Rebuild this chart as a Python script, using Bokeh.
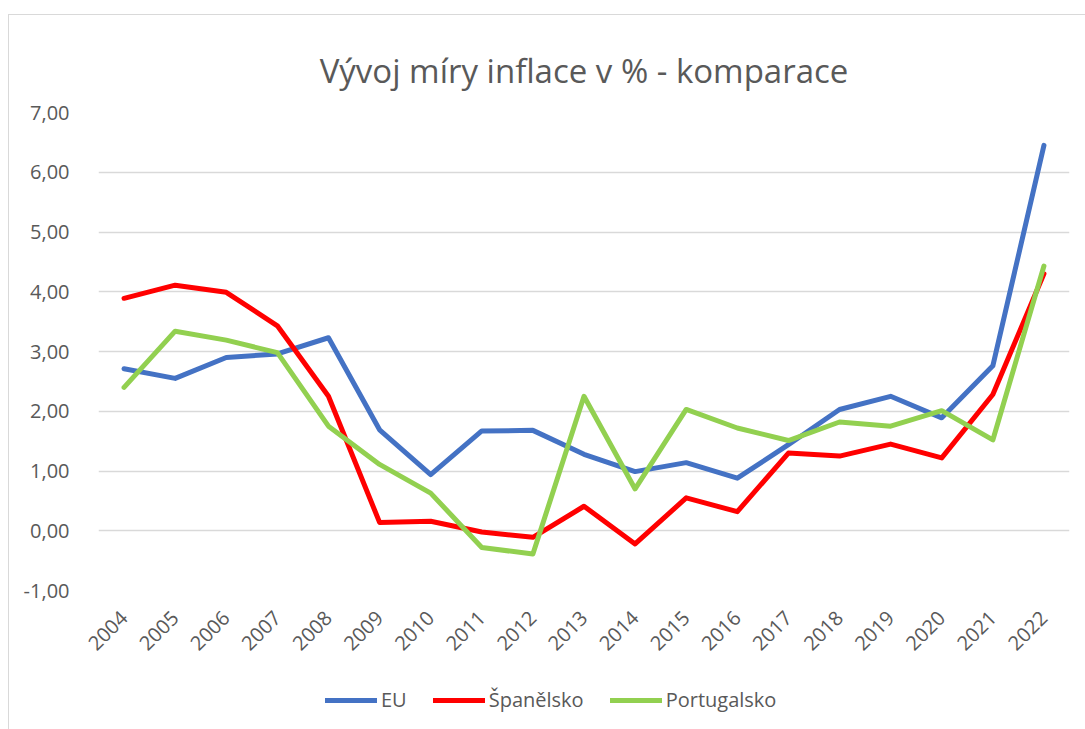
import math
from bokeh.plotting import figure
from bokeh.layouts import column
from bokeh.models import FactorRange, Range1d, FixedTicker, Legend, LegendItem, Title
from bokeh.embed import file_html
from bokeh.resources import INLINE

years = [str(y) for y in range(2004, 2023)]
eu = [2.71, 2.55, 2.90, 2.96, 3.23, 1.69, 0.94, 1.67, 1.68, 1.28, 0.99, 1.14, 0.88, 1.44, 2.03, 2.25, 1.89, 2.76, 6.45]
spain = [3.89, 4.11, 3.99, 3.43, 2.25, 0.14, 0.16, -0.02, -0.11, 0.41, -0.22, 0.55, 0.32, 1.30, 1.25, 1.45, 1.22, 2.28, 4.30]
portugal = [2.40, 3.34, 3.19, 2.98, 1.75, 1.11, 0.63, -0.28, -0.39, 2.25, 0.70, 2.03, 1.72, 1.51, 1.82, 1.75, 2.01, 1.52, 4.43]
series_names = ["EU", "Španělsko", "Portugalsko"]
series_colors = ["#4472C4", "#FF0000", "#92D050"]
y_ticks = [-1, 0, 1, 2, 3, 4, 5, 6, 7]
title_text = "Vývoj míry inflace v % - komparace"

FONT = "Open Sans"
GRAY = "#595959"
BORDER = "1px solid #d9d9d9"

p = figure(
    x_range=FactorRange(*years, range_padding=0),
    y_range=Range1d(-1, 7),
    frame_width=970, frame_height=477,
    output_backend="svg", toolbar_location=None,
    min_border_left=89, min_border_right=17, min_border_top=97, min_border_bottom=80,
    margin=(14, 0, 0, 8),
)
p.styles = {"border-left": BORDER, "border-top": BORDER}
p.outline_line_color = None
p.background_fill_color = "white"
p.border_fill_color = "white"

t = Title(text=title_text, align="center", text_font=FONT, text_font_size="33px",
          text_color=GRAY, text_font_style="normal", standoff=40, offset=-31)
p.add_layout(t, "above")

p.xgrid.grid_line_color = None
p.ygrid.grid_line_color = "#d9d9d9"
p.ygrid.grid_line_width = 1.5
p.yaxis.ticker = FixedTicker(ticks=y_ticks)
p.yaxis.major_label_overrides = {v: f"{v:.2f}".replace(".", ",") for v in y_ticks}

for ax in (p.xaxis[0], p.yaxis[0]):
    ax.axis_line_color = None
    ax.major_tick_line_color = None
    ax.minor_tick_line_color = None
    ax.major_label_text_font = FONT
    ax.major_label_text_font_size = "20px"
    ax.major_label_text_color = GRAY
p.yaxis.major_label_standoff = 23
p.xaxis.major_label_orientation = math.pi / 4
p.xaxis.major_label_standoff = 18

series = [eu, spain, portugal]
for vals, col in zip(series, series_colors):
    p.line(years, vals, line_color=col, line_width=5, line_cap="round", line_join="round")

# legend strip below the chart (its lines lie outside the strip's visible range)
lg = figure(
    x_range=Range1d(-100, -99), y_range=Range1d(0, 1),
    width=1077, height=60,
    output_backend="svg", toolbar_location=None,
    min_border=0, margin=(0, 0, 0, 8),
)
lg.styles = {"border-left": BORDER}
lg.axis.visible = False
lg.grid.grid_line_color = None
lg.outline_line_color = None

items = []
for name, vals, col in zip(series_names, series, series_colors):
    r = lg.line(list(range(len(vals))), vals, line_color=col, line_width=5, line_cap="round")
    items.append(LegendItem(label=name, renderers=[r]))

legend = Legend(items=items, orientation="horizontal", location=(227, 16),
                label_text_font=FONT, label_text_font_size="20px", label_text_color=GRAY,
                glyph_width=52, glyph_height=20, spacing=26, label_standoff=4,
                border_line_color=None, background_fill_alpha=0, margin=0, padding=0)
lg.add_layout(legend)

layout = column(p, lg, spacing=0)
open("out.html", "w").write(file_html(layout, INLINE))
